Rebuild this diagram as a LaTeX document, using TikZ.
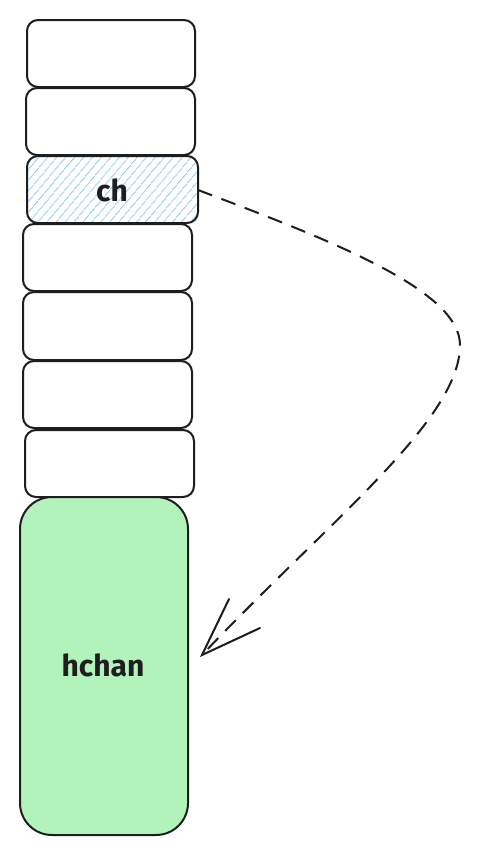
\documentclass[tikz,border=0pt]{standalone}
\usepackage{fontspec}
\setmainfont{Fira Sans}
\usetikzlibrary{patterns.meta,arrows.meta}
\definecolor{hatchblue}{HTML}{8CCBFA}
\definecolor{hgreen}{HTML}{B2F2BB}
\definecolor{ink}{HTML}{1E1E1E}
\begin{document}
\begin{tikzpicture}[x=1pt,y=-1pt,
  cell/.style={draw=ink,line width=2pt,rounded corners=11pt},
  lbl/.style={text=ink,font=\fontsize{30}{34}\selectfont\bfseries},
  link/.style={draw=ink,line width=2pt,dash pattern=on 15pt off 10pt},
  tip/.style={draw=ink,line width=2pt,line cap=round}]
\useasboundingbox (0,0) rectangle (479,854);
\fill[white] (0,0) rectangle (479,854);
% stack of cells
\draw[cell] (27,20) rectangle (195,87);
\draw[cell] (26,88) rectangle (195,155);
\path[pattern={Lines[angle=50,distance=6.5pt,line width=1pt]},pattern color=hatchblue,rounded corners=10pt] (27,156) rectangle (198,223);
\draw[cell] (27,156) rectangle (198,223);
\node[lbl] (ch) at (112,190) {ch};
\coordinate (chE) at (198,190);
\draw[cell] (23,224) rectangle (192,291);
\draw[cell] (23,292) rectangle (192,360);
\draw[cell] (23,361) rectangle (192,428);
\draw[cell] (25,430) rectangle (194,497);
% hchan
\draw[cell,fill=hgreen,rounded corners=32pt] (20,497) rectangle (188,835);
\node[lbl] (hchan) at (103,665) {hchan};
\coordinate (hW) at (202,655);
% dashed connector
\draw[link] (chE) .. controls (330,240) and (460,290) .. (460,345)
  .. controls (460,420) and (330,520) .. (hW);
\draw[tip] (229,599) -- (hW) -- (260,628);
\end{tikzpicture}
\end{document}
